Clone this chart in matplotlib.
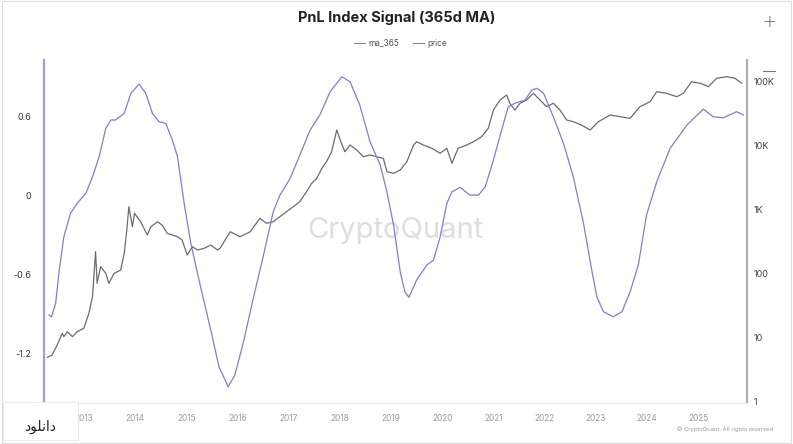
import numpy as np
import matplotlib
matplotlib.use("Agg")
import matplotlib.pyplot as plt
from matplotlib.lines import Line2D
from matplotlib.patches import Rectangle

plt.rcParams['font.family'] = ['Inter', 'DejaVu Sans']

# pnl index signal, 365d moving average (decimal year, value)
ma_years = [2012.32, 2012.37, 2012.45, 2012.52, 2012.61, 2012.74, 2012.87, 2013.04, 2013.17,
            2013.30, 2013.43, 2013.53, 2013.62, 2013.79, 2013.92, 2014.08, 2014.21, 2014.34,
            2014.47, 2014.60, 2014.73, 2014.83, 2014.96, 2015.09, 2015.28, 2015.48, 2015.64,
            2015.82, 2015.95, 2016.12, 2016.31, 2016.51, 2016.70, 2016.83, 2017.03, 2017.22,
            2017.42, 2017.61, 2017.81, 2018.04, 2018.20, 2018.39, 2018.59, 2018.79, 2018.92,
            2019.05, 2019.18, 2019.27, 2019.35, 2019.50, 2019.70, 2019.83, 2019.96, 2020.09,
            2020.19, 2020.35, 2020.54, 2020.71, 2020.84, 2021.00, 2021.16, 2021.29, 2021.42,
            2021.62, 2021.75, 2021.85, 2021.98, 2022.17, 2022.37, 2022.56, 2022.76, 2022.92,
            2023.02, 2023.15, 2023.34, 2023.51, 2023.67, 2023.83, 2023.99, 2024.19, 2024.45,
            2024.78, 2025.10, 2025.29, 2025.49, 2025.75, 2025.88]
ma_365 = [-0.907, -0.920, -0.818, -0.567, -0.312, -0.134, -0.058, 0.018, 0.144,
          0.297, 0.513, 0.576, 0.576, 0.627, 0.779, 0.849, 0.779, 0.627,
          0.563, 0.551, 0.424, 0.297, -0.058, -0.362, -0.692, -1.021, -1.300,
          -1.452, -1.363, -1.110, -0.780, -0.451, -0.122, 0.005, 0.132, 0.310,
          0.500, 0.614, 0.791, 0.905, 0.867, 0.690, 0.411, 0.233, 0.030,
          -0.223, -0.578, -0.730, -0.772, -0.641, -0.527, -0.489, -0.312, -0.058,
          0.030, 0.064, 0.005, 0.005, 0.068, 0.271, 0.500, 0.677, 0.703,
          0.728, 0.804, 0.817, 0.779, 0.601, 0.398, 0.144, -0.210, -0.565,
          -0.768, -0.882, -0.920, -0.882, -0.730, -0.527, -0.147, 0.106, 0.360,
          0.538, 0.659, 0.601, 0.593, 0.639, 0.614]

# btc price (decimal year, usd)
price_years = [2012.29, 2012.38, 2012.48, 2012.58, 2012.61, 2012.68, 2012.78, 2012.87, 2013.00,
               2013.10, 2013.17, 2013.23, 2013.26, 2013.33, 2013.43, 2013.49, 2013.59, 2013.72,
               2013.79, 2013.84, 2013.88, 2013.95, 2013.99, 2014.11, 2014.24, 2014.31, 2014.44,
               2014.53, 2014.63, 2014.73, 2014.83, 2014.92, 2015.02, 2015.12, 2015.22, 2015.35,
               2015.48, 2015.61, 2015.66, 2015.86, 2016.05, 2016.25, 2016.44, 2016.57, 2016.70,
               2016.83, 2016.96, 2017.09, 2017.22, 2017.35, 2017.45, 2017.55, 2017.65, 2017.74,
               2017.84, 2017.94, 2018.02, 2018.10, 2018.20, 2018.33, 2018.46, 2018.59, 2018.72,
               2018.85, 2018.92, 2019.05, 2019.18, 2019.31, 2019.44, 2019.50, 2019.63, 2019.80,
               2019.96, 2020.09, 2020.19, 2020.31, 2020.48, 2020.61, 2020.77, 2020.90, 2021.00,
               2021.13, 2021.26, 2021.32, 2021.42, 2021.52, 2021.65, 2021.78, 2021.91, 2022.04,
               2022.17, 2022.30, 2022.43, 2022.56, 2022.72, 2022.89, 2023.05, 2023.28, 2023.47,
               2023.67, 2023.86, 2024.06, 2024.19, 2024.38, 2024.58, 2024.71, 2024.87, 2025.04,
               2025.20, 2025.36, 2025.56, 2025.72, 2025.85]
price = [4.94, 5.37, 7.69, 11.7, 10.4, 12.4, 10.4, 12.4, 14.0,
         24.1, 43.7, 221, 70.8, 129, 101, 70.8, 101, 114,
         208, 482, 1114, 542, 879, 650, 403, 542, 650,
         576, 428, 403, 378, 336, 196, 264, 235, 249,
         281, 235, 249, 453, 378, 453, 734, 613, 650,
         778, 931, 1114, 1334, 1910, 2585, 3097, 4434, 5623,
         8054, 17580, 11540, 8054, 10260, 8570, 6730, 7160, 6730,
         6350, 3925, 3705, 4169, 5623, 10260, 11540, 10260, 9110,
         7610, 9110, 5310, 9110, 10260, 11540, 13830, 18700, 36100,
         51800, 61940, 46000, 36100, 46000, 51800, 65900, 51800, 40660,
         46000, 36100, 25220, 23710, 21050, 17580, 23710, 30170, 28390,
         26790, 40660, 48700, 69820, 65900, 58300, 65900, 100000, 94400,
         83560, 113000, 119700, 113000, 94400]

year_ticks = list(range(2013, 2026))
left_ticks = [0.6, 0, -0.6, -1.2]
left_labels = ["0.6", "0", "-0.6", "-1.2"]
right_ticks = [1, 10, 100, 1000, 10000, 100000]
right_labels = ["1", "10", "100", "1K", "10K", "100K"]

PURPLE = "#7c7fd6"
GRAY = "#6c6c6c"

fig = plt.figure(figsize=(7.93, 4.44), dpi=100)
fig.patch.set_facecolor("white")
ax = fig.add_axes([0.0555, 0.0923, 0.8865, 0.7725])
ax2 = ax.twinx()

ax.plot(ma_years, ma_365, color=PURPLE, lw=0.9, zorder=3, solid_joinstyle="round")
ax2.plot(price_years, price, color=GRAY, lw=0.9, solid_joinstyle="round")
ax.set_zorder(ax2.get_zorder() + 1)
ax.patch.set_visible(False)

ax.set_xlim(2012.223, 2025.953)
ax.set_ylim(-1.576, 1.032)
ax2.set_yscale("log")
ax2.set_ylim(0.955, 218000)

ax.set_xticks(year_ticks)
ax.set_xticklabels([str(y) for y in year_ticks])
ax.set_yticks(left_ticks)
ax.set_yticklabels(left_labels)
ax2.set_yticks(right_ticks)
ax2.set_yticklabels(right_labels)
ax2.minorticks_off()

ax.tick_params(axis="x", length=0, pad=8, labelsize=6, labelcolor="#9a9a9a")
ax.tick_params(axis="y", length=0, pad=9, labelsize=6.5, labelcolor="#333333")
ax2.tick_params(axis="y", length=0, pad=5, labelsize=6.5, labelcolor="#444444")

for a in (ax, ax2):
    a.spines["top"].set_visible(False)
ax.spines["left"].set_color("#9a9de0")
ax.spines["left"].set_linewidth(1.6)
ax.spines["right"].set_visible(False)
ax.spines["bottom"].set_color("#ebebeb")
ax2.spines["right"].set_color("#b0b0b0")
ax2.spines["right"].set_linewidth(1.6)
ax2.spines["left"].set_visible(False)
ax2.spines["bottom"].set_visible(False)

fig.text(0.5, 0.96, "PnL Index Signal (365d MA)", ha="center", va="center",
         fontsize=10.5, fontweight="bold", color="#222222")

handles = [Line2D([], [], color="#8a8a8a", lw=0.8), Line2D([], [], color="#8a8a8a", lw=0.8)]
fig.legend(handles, ["ma_365", "price"], loc="center", bbox_to_anchor=(0.505, 1 - 43 / 444),
           ncol=2, frameon=False, fontsize=6, handlelength=1.3, handletextpad=0.4,
           columnspacing=1.6, labelcolor="#555555")

fig.text(0.498, 1 - 230 / 444, "CryptoQuant", ha="center", va="center",
         fontsize=21, color="#dedede", zorder=0)
fig.text(0.975, 1 - 429 / 444, "© CryptoQuant. All rights reserved", ha="right", va="center",
         fontsize=4.2, color="#9a9a9a")

# zoom buttons
fig.text(769 / 793, 1 - 22 / 444, "+", ha="center", va="center", fontsize=12,
         color="#555555", family="DejaVu Sans", fontweight="light")
fig.add_artist(Line2D([763 / 793, 775 / 793], [1 - 71 / 444, 1 - 71 / 444],
                      color="#777777", lw=0.8))

# download box overlay
fig.add_artist(Rectangle((0.004, 0.01), 0.094, 0.085, transform=fig.transFigure,
                         facecolor="white", edgecolor="#e8e8e8", lw=0.6, zorder=5))
fig.text(40 / 793, 1 - 427 / 444, "\uFEA9\uFEEE\uFEE0\uFEE7\uFE8D\uFEA9", ha="center",
         va="center", fontsize=10, color="#222222", family="DejaVu Sans", zorder=6)

# outer frame
fig.add_artist(Rectangle((0.002, 0.003), 0.996, 0.994, transform=fig.transFigure,
                         facecolor="none", edgecolor="#dddddd", lw=0.8))

fig.savefig("out.png", dpi=100)
